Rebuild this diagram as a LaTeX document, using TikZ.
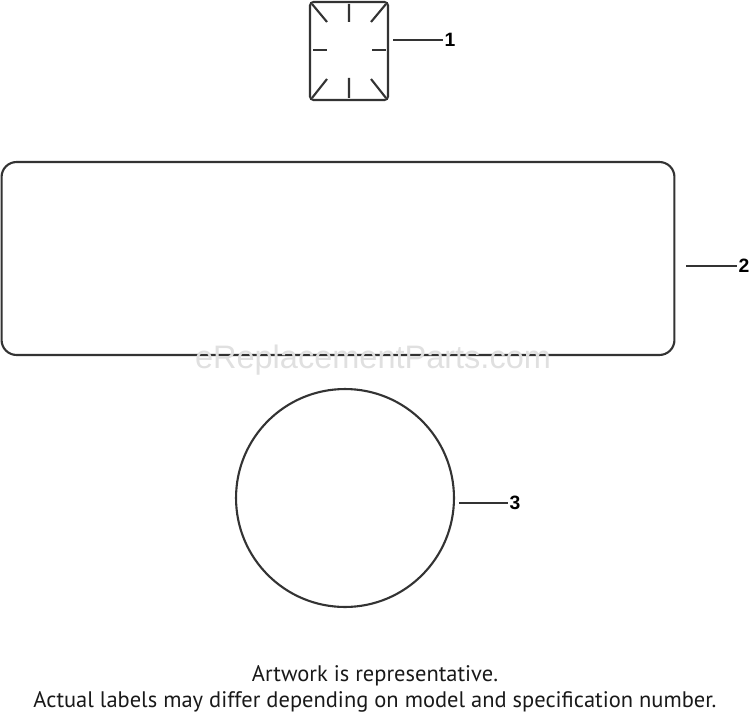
\documentclass[tikz,border=0pt]{standalone}
\usepackage{fontspec}
\setmainfont{PT Sans}
\newfontfamily\numfont{Liberation Sans}
\usepackage{xcolor}
\usepackage{tikz}

\definecolor{inkgray}{gray}{0.2}
\tikzset{
    part/.style={draw=inkgray, line width=1.2pt},
    leader/.style={draw=inkgray, line width=1.2pt},
    callout/.style={font=\numfont\bfseries\fontsize{11}{12}\selectfont, inner sep=1pt},
}

\begin{document}
\begin{tikzpicture}[x=0.02cm,y=-0.02cm]
    \useasboundingbox (0,0) rectangle (750,716);

    % decal 1
    \node [part,
        rounded corners=2pt,
        minimum width=1.56cm,
        minimum height=1.96cm,
        inner sep=0pt,
    ] (decal) at (349,51){};
    \draw [part] (349,4)--(349,22) (312,4)--(327,22) (386,4)--(371,22);
    \draw [part] (313,50)--(327,50) (372,50)--(386,50);
    \draw [part] (349,78)--(349,98) (312,98)--(327,79) (386,98)--(371,79);

    % decal 2
    \node [part,
        rounded corners=0.3cm,
        minimum width=13.46cm,
        minimum height=3.86cm,
        inner sep=0pt,
    ] (panel) at (338,258.5){};

    % decal 3
    \node [part, circle,
        minimum size=4.36cm,
        inner sep=0pt,
    ] (disc) at (345,498){};

    % watermark
    \node [text=black!12, font=\numfont\fontsize{18.5}{21}\selectfont] (mark) at (373,360){eReplacementParts.com};

    % callouts
    \node [callout] (n1) at (450,40){1};
    \node [callout] (n2) at (744,266){2};
    \node [callout] (n3) at (515,503){3};
    \coordinate (t1) at (393,40);
    \coordinate (t2) at (686,266);
    \coordinate (t3) at (459,503);
    \draw [leader] (t1)--(n1.west);
    \draw [leader] (t2)--(n2.west);
    \draw [leader] (t3)--(n3.west);

    % note
    \node [align=center, text=black!90, font=\fontsize{12.8}{14.5}\selectfont] (note) at (375,689)
        {Artwork is representative.\\Actual labels may differ depending on model and specification number.};
\end{tikzpicture}
\end{document}
